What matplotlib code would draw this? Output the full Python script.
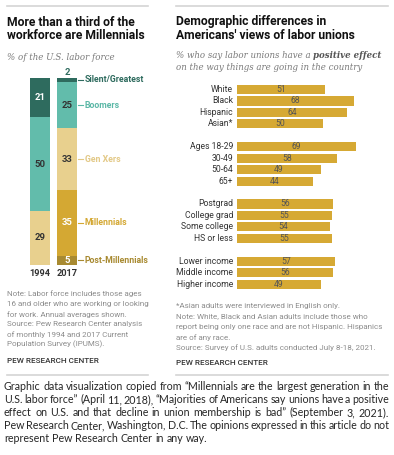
import matplotlib
matplotlib.use('Agg')
import matplotlib.pyplot as plt
import numpy as np

W, H = 394, 455
DPI = 100

# ---------------- data ----------------
generations = ['Silent/Greatest', 'Boomers', 'Gen Xers', 'Millennials', 'Post-Millennials']
years = ['1994', '2017']
share_1994 = [21, 50, 29, 0, 0]
share_2017 = [2, 25, 33, 35, 5]

categories = ['White', 'Black', 'Hispanic', 'Asian*',
              'Ages 18-29', '30-49', '50-64', '65+',
              'Postgrad', 'College grad', 'Some college', 'HS or less',
              'Lower income', 'Middle income', 'Higher income']
positive = [51, 68, 64, 50,
            69, 58, 49, 44,
            56, 55, 54, 55,
            57, 56, 49]
group_sizes = [4, 4, 4, 3]

# ---------------- style ----------------
gen_colors = ['#2e6b5e', '#62bcab', '#e8d08e', '#d4a833', '#a88a31']
gen_label_colors = ['#2e6b5e', '#5cb8a7', '#e3c987', '#d4a833', '#a88a31']
num_colors_1994 = ['white', '#333333', '#333333', '#333333', '#333333']
num_colors_2017 = ['#2e6b5e', '#333333', '#333333', 'white', 'white']
bar_gold = '#d6a934'
gray_txt = '#8c8c8c'
dark_txt = '#333333'
line_col = '#d4d4d4'
SANS = ['Roboto', 'DejaVu Sans']
SERIF = ['DejaVu Serif']
CAP = ['Lato', 'DejaVu Sans']

fig = plt.figure(figsize=(W / DPI, H / DPI), dpi=DPI)
fig.patch.set_facecolor('white')
renderer = fig.canvas.get_renderer()


def fx(x):
    return x / W


def fy(y):
    return 1 - y / H


def width_of(t):
    return t.get_window_extent(renderer).width


def ftext(x, y, s, size=7, **kw):
    kw.setdefault('va', 'center')
    return fig.text(fx(x), fy(y), s, fontsize=size, **kw)


def fit_size(s, target, size=7, **kw):
    t = fig.text(0, 0, s, fontsize=size, **kw)
    w = width_of(t)
    t.remove()
    return size * target / w


def word_widths(words, size, **kw):
    ws = []
    for w_ in words:
        t = fig.text(0, 0, w_, fontsize=size, **kw)
        ws.append(width_of(t))
        t.remove()
    return ws


def hline(y, x0, x1):
    fig.add_artist(plt.Line2D([fx(x0), fx(x1)], [fy(y), fy(y)], color=line_col, lw=1.2))


# separators
hline(6, 7, 148)
hline(6, 176, 388)
hline(375, 7, 148)
hline(375, 176, 388)

# titles
tsize = fit_size('workforce are Millennials', 139, family=SANS, weight='bold')
for i, s in enumerate(['More than a third of the', 'workforce are Millennials']):
    ftext(7, 22 + 13.5 * i, s, size=tsize, family=SANS, weight='bold', color='#111111')
for i, s in enumerate(['Demographic differences in', "Americans' views of labor unions"]):
    ftext(176, 22 + 13.5 * i, s, size=tsize, family=SANS, weight='bold', color='#111111')

# subtitles
ssize = fit_size('% of the U.S. labor force', 108, family=SERIF, style='italic')
ftext(7, 57, '% of the U.S. labor force', size=ssize, family=SERIF, style='italic', color='#7a7a7a')
t1 = ftext(176, 55, '% who say labor unions have a', size=ssize, family=SERIF, style='italic', color='#7a7a7a')
ftext(176 + width_of(t1) + ssize * 0.35, 55, 'positive effect', size=ssize, family=SERIF,
      style='italic', weight='bold', color='#555555')
ftext(176, 68, 'on the way things are going in the country', size=ssize, family=SERIF,
      style='italic', color='#7a7a7a')

# ---------------- left chart ----------------
ax1 = fig.add_axes([fx(26.5), fy(265), 135 / W, 187 / H])
ax1.set_xlim(-0.5, 4.5)
ax1.set_ylim(0, 100)
ax1.axis('off')
bw = 0.74
for xi, shares, ncols in [(0, share_1994, num_colors_1994), (1, share_2017, num_colors_2017)]:
    top = sum(shares)
    for gi, v in enumerate(shares):
        if v == 0:
            continue
        bottom = sum(shares[gi + 1:])
        ax1.bar(xi, v, bottom=bottom, width=bw, color=gen_colors[gi], linewidth=0)
        yc = bottom + v / 2
        if xi == 1 and gi == 0:
            ax1.text(xi, top + 2.8, str(v), ha='center', va='center', fontsize=6.8,
                     family=SANS, weight='bold', color=ncols[gi])
        else:
            ax1.text(xi, yc, str(v), ha='center', va='center', fontsize=6.8,
                     family=SANS, weight='bold', color=ncols[gi])
        if xi == 1:
            ax1.plot([1.41, 1.59], [yc, yc], color=gen_label_colors[gi], lw=0.8, clip_on=False)
            ax1.text(1.65, yc, generations[gi], ha='left', va='center', fontsize=6.3,
                     family=SANS, weight='bold', color=gen_label_colors[gi], clip_on=False)
for xi, yl in enumerate(years):
    ax1.text(xi, -4.3, yl, ha='center', va='center', fontsize=6.6, family=SANS,
             weight='bold', color=dark_txt, clip_on=False)

# ---------------- right chart ----------------
pos = []
p = 0
for gs in group_sizes:
    for k in range(gs):
        pos.append(p)
        p += 1
    p += 1
px_per_row = 11.45
ax2 = fig.add_axes([fx(237), fy(89.5 + 17.5 * px_per_row), 88 * 1.72 / W, 18 * px_per_row / H])
ax2.set_xlim(0, 88)
ax2.set_ylim(17.5, -0.5)
ax2.axis('off')
ax2.barh(pos, positive, height=0.8, color=bar_gold, linewidth=0)
for yp, cat, v in zip(pos, categories, positive):
    ax2.text(-2.3, yp, cat, ha='right', va='center', fontsize=6.2, family=SANS,
             color=dark_txt, clip_on=False)
    ax2.text(v / 2, yp, str(v), ha='center', va='center', fontsize=6.2, family=SANS,
             color='#555555')

# ---------------- notes ----------------
nsize = fit_size('16 and older who are working or looking', 141, family=SANS)
left_notes = ['Note: Labor force includes those ages',
              '16 and older who are working or looking',
              'for work. Annual averages shown.',
              'Source: Pew Research Center analysis',
              'of monthly 1994 and 2017 Current',
              'Population Survey (IPUMS).']
for i, s in enumerate(left_notes):
    ftext(7, 294 + 10.1 * i, s, size=nsize, family=SANS, color=gray_txt)
right_notes = ['*Asian adults were interviewed in English only.',
               'Note: White, Black and Asian adults include those who',
               'report being only one race and are not Hispanic. Hispanics',
               'are of any race.',
               'Source: Survey of U.S. adults conducted July 8-18, 2021.']
for i, s in enumerate(right_notes):
    ftext(176, 306 + 10.4 * i, s, size=nsize, family=SANS, color=gray_txt)

psize = fit_size('PEW RESEARCH CENTER', 93, family=SANS, weight='medium')
ftext(7, 361, 'PEW RESEARCH CENTER', size=psize, family=SANS, weight='medium', color=dark_txt)
ftext(176, 363, 'PEW RESEARCH CENTER', size=psize, family=SANS, weight='medium', color=dark_txt)

# ---------------- caption (justified) ----------------
caption = ['Graphic data visualization copied from \u201cMillennials are the largest generation in the',
           'U.S. labor force\u201d (April 11, 2018), \u201cMajorities of Americans say unions have a positive',
           'effect on U.S. and that decline in union membership is bad\u201d (September 3, 2021).',
           'Pew Research Center, Washington, D.C. The opinions expressed in this article do not',
           'represent Pew Research Center in any way.']
cx0, cx1 = 4, 389
base = 7.0
space = base * DPI / 72 * 0.26   # natural space width in px at base size
sizes = []
for line in caption[:4]:
    words = line.split(' ')
    natural = sum(word_widths(words, base, family=CAP)) + 0.7 * space * (len(words) - 1)
    sizes.append(base * (cx1 - cx0) / natural)
csize = min(sizes)
for i, line in enumerate(caption):
    y = 387 + 12.9 * i
    words = line.split(' ')
    ws = word_widths(words, csize, family=CAP)
    if i == len(caption) - 1:
        gap = csize * DPI / 72 * 0.26
    else:
        gap = (cx1 - cx0 - sum(ws)) / (len(words) - 1)
    x = cx0
    for w_, wd in zip(words, ws):
        fig.text(fx(x), fy(y), w_, fontsize=csize, family=CAP, color='#262626', va='center')
        x += wd + gap

fig.savefig('out.png', dpi=DPI)
